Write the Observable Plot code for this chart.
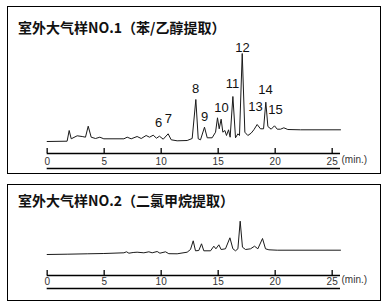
<!DOCTYPE html>
<html>
<head>
<meta charset="utf-8">
<script src="https://cdn.jsdelivr.net/npm/d3@7"></script>
<script src="https://cdn.jsdelivr.net/npm/@observablehq/plot@0.6"></script>
<style>
  body { margin: 0; background: #fff; font-family: "Liberation Sans", Arial, sans-serif; }
  .panel { position: absolute; left: 7px; width: 372px; border: 1px solid #000; background: #fff; }
  .title { font-family: "Noto Sans CJK SC", sans-serif; font-weight: bold; font-size: 14px; line-height: 20px; height: 20px; padding-left: 10px; color: #111; white-space: nowrap; }
  .chart svg { display: block; overflow: visible; }
</style>
</head>
<body>
<div class="panel" id="p1" style="top:6px;height:166px;">
  <div class="title" style="margin-top:10px;">室外大气样NO.1（苯/乙醇提取）</div>
  <div class="chart" id="c1"></div>
</div>
<div class="panel" id="p2" style="top:184px;height:115px;">
  <div class="title" style="margin-top:5px;">室外大气样NO.2（二氯甲烷提取）</div>
  <div class="chart" id="c2"></div>
</div>
<script>
// x-axis ticks (minutes)
const tickVals = [0, 5, 10, 15, 20, 25];
const unitLabel = "(min.)";

// Sample 1 chromatogram (time in min, detector signal)
const time1 = [0, 1.75, 1.93, 2.11, 2.63, 3.07, 3.36, 3.60, 3.86, 4.24, 4.62, 4.97, 6.73, 7.02, 7.37, 7.89, 8.25, 8.68, 8.98, 9.30, 9.59, 9.85, 10.18, 10.61, 10.88, 11.40, 12.28, 12.72, 13.04, 13.25, 13.45, 13.80, 14.04, 14.47, 14.77, 14.94, 15.09, 15.26, 15.41, 15.59, 15.73, 15.91, 16.05, 16.29, 16.52, 16.73, 16.87, 17.11, 17.34, 17.60, 17.89, 18.13, 18.42, 18.71, 18.98, 19.18, 19.36, 19.65, 19.94, 20.18, 20.47, 20.76, 21.11, 22.22, 25.73];
const signal1 = [12, 12.3, 23, 14.7, 17.7, 17, 16.3, 27.3, 16.3, 15, 16.3, 14.7, 14.7, 16.3, 14.7, 17, 15, 18, 16.3, 18.3, 15.3, 17.3, 14.3, 19.7, 13.7, 12.7, 13, 15, 54, 14.7, 13.7, 26.3, 15.7, 15.7, 21.3, 35.7, 24.7, 34.3, 21.3, 23, 18, 23.7, 16.3, 57, 15.7, 19.7, 18, 100, 21.3, 18, 20.3, 23.7, 29, 24.7, 24.7, 51.3, 27, 24.3, 27.7, 24.3, 24.3, 25.7, 24, 23.7, 23.7];

// Peak labels of sample 1
const peakNo = ["6", "7", "8", "9", "10", "11", "12", "13", "14", "15"];
const peakTime = [9.77, 10.64, 13.01, 13.80, 15.29, 16.26, 17.13, 18.27, 19.15, 20.03];
const peakLabelLevel = [31, 35, 65, 37, 46, 70, 106, 47, 64, 44];

// Sample 2 chromatogram
const time2 = [0, 1.75, 3.51, 4.97, 6.73, 6.96, 7.17, 7.54, 7.89, 8.48, 8.92, 9.21, 9.65, 9.89, 10.38, 10.67, 11.40, 12.28, 12.57, 12.81, 13.01, 13.30, 13.54, 13.74, 14.33, 14.62, 14.80, 15.06, 15.26, 15.64, 16.03, 16.29, 16.52, 16.73, 16.93, 17.13, 17.40, 17.84, 18.19, 18.48, 18.89, 19.15, 19.45, 20.18, 25.73];
const signal2 = [21, 21.3, 21.7, 22, 22.7, 23.7, 22.3, 23, 23.3, 22.7, 23.7, 22.7, 24, 22.3, 23.7, 21.8, 21.7, 23.3, 26, 34.7, 24.7, 25, 31.7, 24.7, 24.7, 29.3, 26.7, 30.7, 26, 26.7, 37.7, 26.7, 24.7, 26.7, 54.3, 28.3, 26, 26.7, 29.3, 26.7, 37, 26.7, 25.7, 25.3, 25.3];

function chart(time, signal, opt) {
  const rows = time.map((t, i) => ({t, v: signal[i]}));
  const marks = [
    Plot.ruleY([0], {stroke: "#000", strokeWidth: 1.3}),
    Plot.ruleY([0], {stroke: "#000", strokeWidth: 1.3, dy: opt.lineGap}),
    Plot.axisX({ticks: tickVals, tickSize: -5, tickPadding: opt.tickPad, stroke: "#000", strokeWidth: 1.3, fill: "#333", fontSize: 10, label: null}),
    Plot.text([unitLabel], {frameAnchor: "bottom-right", textAnchor: "start", dx: 1, dy: opt.unitDy, fill: "#333", fontSize: 10}),
    Plot.line(rows, {x: "t", y: "v", stroke: "#1a1a1a", strokeWidth: 1})
  ];
  if (opt.labels) {
    const lab = opt.labels.no.map((n, i) => ({n, t: opt.labels.t[i], v: opt.labels.v[i]}));
    marks.push(Plot.text(lab, {x: "t", y: "v", text: "n", fontSize: 13, fill: "#111"}));
  }
  return Plot.plot({
    width: 372,
    height: opt.height,
    marginLeft: 38.67,
    marginRight: 40,
    marginTop: opt.marginTop,
    marginBottom: opt.marginBottom,
    x: {domain: [0, 25.73], axis: null},
    y: {domain: [0, opt.yMax], axis: null},
    style: {fontFamily: "'Liberation Sans', Arial, sans-serif", fontSize: "10px", background: "transparent", overflow: "visible"},
    marks
  });
}

document.getElementById("c1").append(chart(time1, signal1, {
  height: 136, marginTop: 6, marginBottom: 20, yMax: 110, lineGap: 15, tickPad: 9, unitDy: 9.5,
  labels: {no: peakNo, t: peakTime, v: peakLabelLevel}
}));
document.getElementById("c2").append(chart(time2, signal2, {
  height: 90, marginTop: 5, marginBottom: 25, yMax: 60, lineGap: 13, tickPad: 7, unitDy: 7.5
}));
</script>
</body>
</html>
